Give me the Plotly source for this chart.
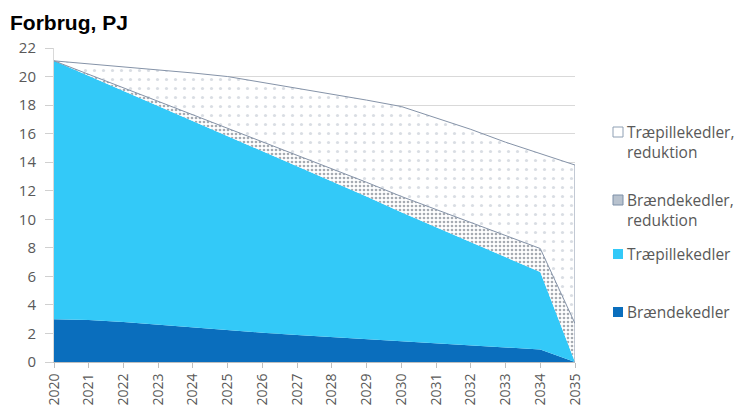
import plotly.graph_objects as go

years = list(range(2020, 2036))
braende = [3.0, 2.95, 2.8, 2.6, 2.4, 2.2, 2.05, 1.9, 1.75, 1.65, 1.5, 1.35, 1.2, 1.05, 0.88, 0.0]
traepille = [18.1, 17.1, 16.15, 15.3, 14.45, 13.6, 12.7, 11.8, 10.9, 9.95, 9.0, 8.1, 7.2, 6.3, 5.42, 0.0]
braende_red = [0.0, 0.11, 0.22, 0.33, 0.44, 0.55, 0.66, 0.77, 0.88, 0.99, 1.1, 1.24, 1.37, 1.5, 1.65, 2.7]
traepille_red = [0.0, 0.74, 1.53, 2.27, 2.96, 3.65, 4.19, 4.73, 5.22, 5.76, 6.3, 6.41, 6.53, 6.55, 6.65, 11.1]

names = ["Brændekedler", "Træpillekedler", "Brændekedler, reduktion", "Træpillekedler, reduktion"]
tick_vals = list(range(0, 23, 2))

C_DARK = "#0A6EBD"
C_CYAN = "#33C9F8"
EDGE = "#8593a8"

fig = go.Figure()
fig.add_trace(go.Scatter(x=years, y=braende, name=names[0], stackgroup="one",
                         mode="lines", line=dict(width=0, color=C_DARK),
                         fillcolor=C_DARK, showlegend=False))
fig.add_trace(go.Scatter(x=years, y=traepille, name=names[1], stackgroup="one",
                         mode="lines", line=dict(width=0, color=C_CYAN),
                         fillcolor=C_CYAN, showlegend=False))
fig.add_trace(go.Scatter(x=years, y=braende_red, name=names[2], stackgroup="one",
                         mode="lines", line=dict(width=1, color=EDGE),
                         fillcolor="white",
                         fillpattern=dict(shape=".", bgcolor="white", fgcolor="#4e5866",
                                          size=4, solidity=0.35),
                         showlegend=False))
fig.add_trace(go.Scatter(x=years, y=traepille_red, name=names[3], stackgroup="one",
                         mode="lines", line=dict(width=1, color=EDGE),
                         fillcolor="white",
                         fillpattern=dict(shape=".", bgcolor="white", fgcolor="#b4bcc8",
                                          size=9, solidity=0.1),
                         showlegend=False))

# right edge of the reduction areas at the last year (derived from data)
base_last = braende[-1] + traepille[-1]
top_last = base_last + braende_red[-1] + traepille_red[-1]
fig.add_trace(go.Scatter(x=[years[-1], years[-1]], y=[base_last, top_last], mode="lines",
                         line=dict(width=1, color=EDGE), showlegend=False, hoverinfo="skip"))

# ---- manual legend (pixel layout converted to paper coords) ----
L, R, T, B = 54, 169, 48, 46
W, H = 744, 408
pw, ph = W - L - R, H - T - B
def px(x):
    return (x - L) / pw
def py(y):
    return (H - B - y) / ph

legend_items = [
    (names[3], [132, 152], dict(fillcolor="white", line=dict(color="#8fa0b4", width=1))),
    (names[2], [200, 220], dict(fillcolor="#b8c2ce", line=dict(color="#7d90a8", width=1))),
    (names[1], [254], dict(fillcolor=C_CYAN, line=dict(width=0))),
    (names[0], [312], dict(fillcolor=C_DARK, line=dict(width=0))),
]
for label, ys, sty in legend_items:
    parts = label.split(" ")
    lines = [label] if len(ys) == 1 else [parts[0], " ".join(parts[1:])]
    fig.add_shape(type="rect", xref="paper", yref="paper",
                  x0=px(613), x1=px(623), y0=py(ys[0] - 5), y1=py(ys[0] + 5), **sty)
    for txt, yy in zip(lines, ys):
        fig.add_annotation(text=txt, xref="paper", yref="paper", x=px(625), y=py(yy),
                           xanchor="left", yanchor="middle", showarrow=False,
                           font=dict(family="Open Sans", size=15.5, color="#595959"))

fig.update_layout(
    width=W, height=H,
    margin=dict(l=L, r=R, t=T, b=B),
    paper_bgcolor="white", plot_bgcolor="white",
    title=dict(text="<b>Forbrug, PJ</b>", x=10 / W, xanchor="left", y=1 - 23 / H, yanchor="middle",
               font=dict(family="Liberation Sans, Arial", size=21, color="black")),
    showlegend=False,
    font=dict(family="Open Sans", color="#595959"),
)
fig.update_xaxes(range=[2020, 2035], tickmode="array", tickvals=years, ticktext=[str(y) for y in years],
                 tickangle=-90, showgrid=False, showline=True, linecolor="#bfbfbf",
                 ticks="outside", ticklen=5, tickcolor="#bfbfbf", tickfont=dict(size=14, color="#595959"),
                 zeroline=False, automargin=False)
fig.update_yaxes(range=[0, 22], tickmode="array", tickvals=tick_vals, showgrid=True, gridcolor="#d9d9d9",
                 showline=True, linecolor="#d9d9d9", ticks="outside", ticklen=8, tickcolor="#d0d0d0",
                 ticklabelstandoff=6, automargin=False,
                 tickfont=dict(size=15, color="#595959"), zeroline=False)

fig.write_html("out.html")
